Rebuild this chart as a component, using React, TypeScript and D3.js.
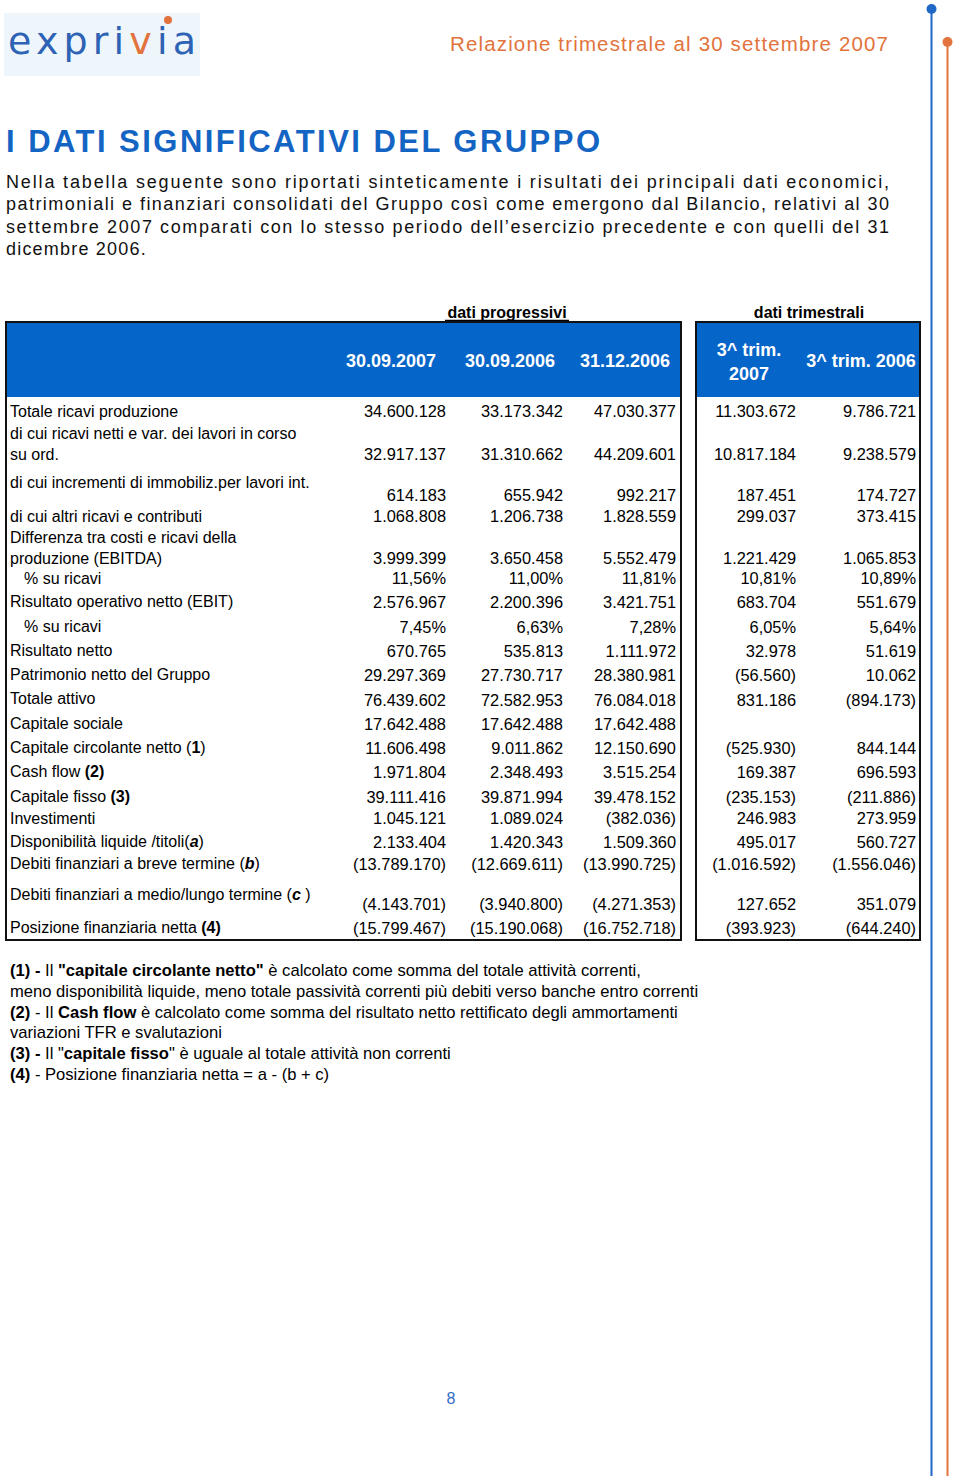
import { useMemo } from "react";
import * as d3 from "d3";

// ---- data ----
const columns = ["30.09.2007", "30.09.2006", "31.12.2006", "3^ trim. 2007", "3^ trim. 2006"];

const rowLabels = [
  ["Totale ricavi produzione"],
  ["di cui ricavi netti e var. dei lavori in corso", "su ord."],
  ["di cui incrementi di immobiliz.per lavori int."],
  ["di cui altri ricavi e contributi"],
  ["Differenza tra costi e ricavi della", "produzione (EBITDA)"],
  ["  % su ricavi"],
  ["Risultato operativo netto (EBIT)"],
  ["  % su ricavi"],
  ["Risultato netto"],
  ["Patrimonio netto del Gruppo"],
  ["Totale attivo"],
  ["Capitale sociale"],
  ["Capitale circolante netto ({1})"],
  ["Cash flow {(2)}"],
  ["Capitale fisso {(3)}"],
  ["Investimenti"],
  ["Disponibilità liquide /titoli(<a>)"],
  ["Debiti finanziari a breve termine (<b>)"],
  ["Debiti finanziari a medio/lungo termine (<c >)"],
  ["Posizione finanziaria netta {(4)}"],
];

// true = percentage row
const pctRows = [false, false, false, false, false, true, false, true, false, false, false, false, false, false, false, false, false, false, false, false];

const val0709 = [34600128, 32917137, 614183, 1068808, 3999399, 11.56, 2576967, 7.45, 670765, 29297369, 76439602, 17642488, 11606498, 1971804, 39111416, 1045121, 2133404, -13789170, -4143701, -15799467];
const val0906 = [33173342, 31310662, 655942, 1206738, 3650458, 11.0, 2200396, 6.63, 535813, 27730717, 72582953, 17642488, 9011862, 2348493, 39871994, 1089024, 1420343, -12669611, -3940800, -15190068];
const val1206 = [47030377, 44209601, 992217, 1828559, 5552479, 11.81, 3421751, 7.28, 1111972, 28380981, 76084018, 17642488, 12150690, 3515254, 39478152, -382036, 1509360, -13990725, -4271353, -16752718];
const valQ307 = [11303672, 10817184, 187451, 299037, 1221429, 10.81, 683704, 6.05, 32978, -56560, 831186, null, -525930, 169387, -235153, 246983, 495017, -1016592, 127652, -393923];
const valQ306 = [9786721, 9238579, 174727, 373415, 1065853, 10.89, 551679, 5.64, 51619, 10062, -894173, null, 844144, 696593, -211886, 273959, 560727, -1556046, 351079, -644240];
const seriesValues = [val0709, val0906, val1206, valQ307, valQ306];

const paragraph = [
  "Nella tabella seguente sono riportati sinteticamente i risultati dei principali dati economici,",
  "patrimoniali e finanziari consolidati del Gruppo così come emergono dal Bilancio, relativi al 30",
  "settembre 2007 comparati con lo stesso periodo dell’esercizio precedente e con quelli del 31",
  "dicembre 2006.",
];

const footnotes = [
  "{(1) -} Il {\"capitale circolante netto\"} è calcolato come somma del totale attività correnti,",
  "meno disponibilità liquide, meno totale passività correnti più debiti verso banche entro correnti",
  "{(2)} - Il {Cash flow} è calcolato come somma del risultato netto rettificato degli ammortamenti",
  "variazioni TFR e svalutazioni",
  "{(3) -} Il \"{capitale fisso}\" è uguale al totale attività non correnti",
  "{(4)} -  Posizione finanziaria netta = a - (b + c)",
];

// ---- layout ----
const W = 960;
const H = 1476;
const BLUE = "#0565c8";
const ORANGE = "#e2733d";
const FONT = "'Liberation Sans', Arial, sans-serif";

const labelY = [417, 439, 488, 522, 543, 584, 607, 632, 656, 680, 704, 729, 753, 777, 802, 824, 847, 869, 900, 933];
const valueY = [417, 460, 501, 522, 564, 584, 608, 633, 657, 681, 706, 730, 754, 778, 803, 824, 848, 870, 910, 934];
const colRight = [446, 563, 676, 796, 916];
const footY = [976, 997, 1018, 1038, 1059, 1080];

const itLocale = d3.formatLocale({ decimal: ",", thousands: ".", grouping: [3], currency: ["", "€"] });
const fmtInt = itLocale.format(",d");
const fmtPct = itLocale.format(".2f");

function fmtValue(v: number | null, pct: boolean) {
  if (v === null) return "";
  if (pct) return fmtPct(v) + "%";
  return v < 0 ? `(${fmtInt(-v)})` : fmtInt(v);
}

// "{..}" -> bold, "<..>" -> bold italic
function rich(s: string) {
  const parts: { t: string; b: boolean; i: boolean }[] = [];
  const re = /\{([^}]*)\}|<([^>]*)>|([^{<]+)/g;
  let m;
  while ((m = re.exec(s))) {
    if (m[1] !== undefined) parts.push({ t: m[1], b: true, i: false });
    else if (m[2] !== undefined) parts.push({ t: m[2], b: true, i: true });
    else parts.push({ t: m[3], b: false, i: false });
  }
  return parts.map((p, k) => (
    <tspan key={k} fontWeight={p.b ? "bold" : "normal"} fontStyle={p.i ? "italic" : "normal"}>
      {p.t}
    </tspan>
  ));
}

export default function App() {
  const colX = useMemo(
    () => d3.scaleOrdinal<string, number>().domain(columns).range(colRight),
    []
  );

  return (
    <svg
      width={W}
      height={H}
      style={{ position: "absolute", left: 0, top: 0, background: "#fff" }}
      fontFamily={FONT}
    >
      {/* logo */}
      <rect x={4} y={13} width={196} height={63} fill="#eef6fc" />
      <text x={8} y={54} fontSize={38} fill="#2d62b4" textLength={188} lengthAdjust="spacing" fontFamily="'DejaVu Sans', sans-serif">
        expri<tspan fill={ORANGE}>v</tspan>ia
      </text>
      <circle cx={168} cy={20} r={4} fill={ORANGE} />

      {/* running header */}
      <text x={450} y={51} fontSize={20.5} fill={ORANGE} textLength={438} lengthAdjust="spacing">
        Relazione trimestrale al 30 settembre 2007
      </text>
      <line x1={931.5} y1={9} x2={931.5} y2={H} stroke="#1f68c6" strokeWidth={2} />
      <circle cx={931.5} cy={9} r={5} fill="#1f68c6" />
      <line x1={947.5} y1={42} x2={947.5} y2={H} stroke={ORANGE} strokeWidth={2} />
      <circle cx={947.5} cy={42} r={5} fill={ORANGE} />

      {/* title */}
      <text x={6} y={152} fontSize={31} fontWeight="bold" fill="#1464c4" textLength={594} lengthAdjust="spacing">
        I DATI SIGNIFICATIVI DEL GRUPPO
      </text>

      {paragraph.map((line, i) => (
        <text
          key={i}
          x={6}
          y={188 + i * 22.4}
          fontSize={18}
          fill="#111"
          textLength={i < 3 ? 883 : undefined}
          lengthAdjust="spacing"
          letterSpacing={i < 3 ? undefined : 1.2}
        >
          {line}
        </text>
      ))}

      {/* group headings */}
      <text x={507} y={318} fontSize={16} fontWeight="bold" textAnchor="middle">dati progressivi</text>
      <line x1={445} x2={569} y1={320.5} y2={320.5} stroke="#000" strokeWidth={1.5} />
      <text x={809} y={318} fontSize={16} fontWeight="bold" textAnchor="middle">dati trimestrali</text>

      {/* table frames */}
      <rect x={7} y={323} width={673} height={74} fill={BLUE} />
      <rect x={697} y={323} width={222} height={74} fill={BLUE} />
      <rect x={6} y={322} width={675} height={618} fill="none" stroke="#111" strokeWidth={2} />
      <rect x={696} y={322} width={224} height={618} fill="none" stroke="#111" strokeWidth={2} />

      {/* column headers */}
      <g fill="#fff" fontSize={18} fontWeight="bold" textAnchor="middle">
        <text x={391} y={367}>{columns[0]}</text>
        <text x={510} y={367}>{columns[1]}</text>
        <text x={625} y={367}>{columns[2]}</text>
        <text x={749} y={356}>3^ trim.</text>
        <text x={749} y={380}>2007</text>
        <text x={861} y={367}>{columns[4]}</text>
      </g>

      {/* row labels */}
      <g fontSize={16} fill="#000">
        {rowLabels.map((lines, r) =>
          lines.map((ln, k) => (
            <text key={`${r}-${k}`} x={ln.startsWith("  ") ? 24 : 10} y={labelY[r] + k * 21}>
              {rich(ln.trim())}
            </text>
          ))
        )}
      </g>

      {/* values */}
      <g fontSize={16.4} fill="#000" textAnchor="end">
        {seriesValues.map((series, c) =>
          series.map((v, r) => (
            <text key={`${c}-${r}`} x={colX(columns[c])} y={valueY[r]}>
              {fmtValue(v, pctRows[r])}
            </text>
          ))
        )}
      </g>

      {/* footnotes */}
      <g fontSize={16.6} fill="#000">
        {footnotes.map((ln, i) => (
          <text key={i} x={10} y={footY[i]}>
            {rich(ln)}
          </text>
        ))}
      </g>

      <text x={451} y={1404} fontSize={16} fill="#2f6cc6" textAnchor="middle">8</text>
    </svg>
  );
}
